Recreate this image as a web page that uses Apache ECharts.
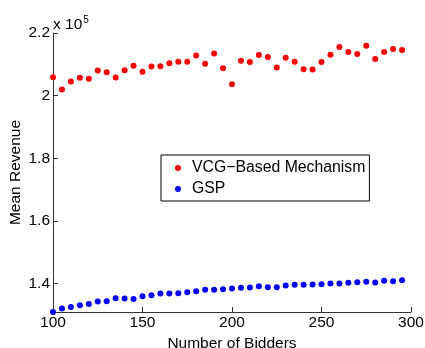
<!DOCTYPE html>
<html>
<head>
<meta charset="utf-8">
<script src="https://cdn.jsdelivr.net/npm/echarts@6/dist/echarts.min.js"></script>
<style>
  html, body { margin: 0; padding: 0; background: #fff; }
  #chart { width: 425px; height: 348px; }
</style>
</head>
<body>
<div id="chart"></div>
<script>
// number of bidders (x)
const bidders = [];
for (let b = 100; b <= 295; b += 5) bidders.push(b);

// mean revenue (units of 1e5)
const vcgRevenue = [
  2.0588, 2.0193, 2.0449, 2.0567, 2.0535, 2.0802, 2.0749, 2.0578, 2.0813, 2.0952,
  2.0759, 2.0930, 2.0941, 2.1037, 2.1080, 2.1080, 2.1283, 2.1016, 2.1348, 2.0877,
  2.0364, 2.1112, 2.1070, 2.1294, 2.1230, 2.0898, 2.1209, 2.1080, 2.0845, 2.0834,
  2.1070, 2.1305, 2.1551, 2.1390, 2.1326, 2.1594, 2.1166, 2.1390, 2.1487, 2.1455
];
const gspRevenue = [
  1.3090, 1.3199, 1.3252, 1.3306, 1.3348, 1.3423, 1.3434, 1.3530, 1.3519, 1.3509,
  1.3594, 1.3626, 1.3679, 1.3679, 1.3690, 1.3722, 1.3754, 1.3797, 1.3797, 1.3818,
  1.3840, 1.3861, 1.3872, 1.3915, 1.3882, 1.3882, 1.3936, 1.3957, 1.3957, 1.3968,
  1.3979, 1.4000, 1.4000, 1.4021, 1.4043, 1.4053, 1.4032, 1.4085, 1.4075, 1.4107
];
const yTicks = [140000, 160000, 180000, 200000, 220000];

const FONT = "Liberation Sans, Arial, Helvetica, sans-serif";
const toPairs = (ys) => bidders.map((b, i) => [b, Math.round(ys[i] * 1e5)]);

const chart = echarts.init(document.getElementById("chart"));
const option = {
  animation: false,
  textStyle: { fontFamily: FONT },
  grid: { left: 53, right: 14, top: 33, bottom: 36, outerBoundsMode: "none", containLabel: false },
  xAxis: {
    type: "value",
    min: 100,
    max: 300,
    interval: 50,
    name: "Number of Bidders",
    nameLocation: "middle",
    nameGap: 22,
    nameTextStyle: { color: "#000", fontSize: 15.5, fontFamily: FONT },
    axisLine: { lineStyle: { color: "#333", width: 1 } },
    axisTick: { inside: true, length: 5, lineStyle: { color: "#333" } },
    axisLabel: { color: "#000", fontSize: 15.5, margin: 3, fontFamily: FONT, showMaxLabel: true, showMinLabel: true },
    splitLine: { show: false },
  },
  yAxis: {
    type: "value",
    min: 130900,
    max: 220000,
    name: "Mean Revenue",
    nameLocation: "middle",
    nameGap: 29,
    nameMoveOverlap: false,
    nameTextStyle: { color: "#000", fontSize: 15.5, fontFamily: FONT },
    axisLine: { show: true, lineStyle: { color: "#333", width: 1 } },
    axisTick: {
      show: true,
      inside: true,
      length: 5,
      customValues: yTicks,
      lineStyle: { color: "#333" },
    },
    axisLabel: {
      color: "#000",
      fontSize: 15.5,
      margin: 3,
      fontFamily: FONT,
      customValues: yTicks,
      showMaxLabel: true,
      formatter: (v) => String(+(v / 1e5).toFixed(1)),
    },
    splitLine: { show: false },
  },
  legend: {
    orient: "vertical",
    left: 161,
    top: 155,
    padding: [4, 4, 3, 14],
    itemGap: 3,
    itemWidth: 6,
    itemHeight: 6,
    icon: "circle",
    backgroundColor: "#fff",
    borderColor: "#000",
    borderWidth: 1,
    borderRadius: 0,
    textStyle: { color: "#000", fontSize: 15.8, lineHeight: 18, fontFamily: FONT, padding: [0, 0, 0, 6] },
    data: ["VCG\u2212Based Mechanism", "GSP"],
  },
  graphic: [
    {
      type: "text",
      left: 53,
      top: 15,
      style: {
        text: "{a|x 10}{b|5}",
        rich: {
          a: { fontSize: 15.5, fontFamily: FONT, fill: "#000", verticalAlign: "bottom" },
          b: { fontSize: 10, fontFamily: FONT, fill: "#000", verticalAlign: "top", padding: [0, 0, 8, 1] },
        },
      },
    },
  ],
  series: [
    {
      name: "VCG\u2212Based Mechanism",
      type: "scatter",
      data: toPairs(vcgRevenue),
      symbol: "circle",
      symbolSize: 6,
      itemStyle: { color: "#ff0000", opacity: 1 },
      clip: false,
    },
    {
      name: "GSP",
      type: "scatter",
      data: toPairs(gspRevenue),
      symbol: "circle",
      symbolSize: 6,
      itemStyle: { color: "#0000ff", opacity: 1 },
      clip: false,
    },
  ],
};
chart.setOption(option);
</script>
</body>
</html>
